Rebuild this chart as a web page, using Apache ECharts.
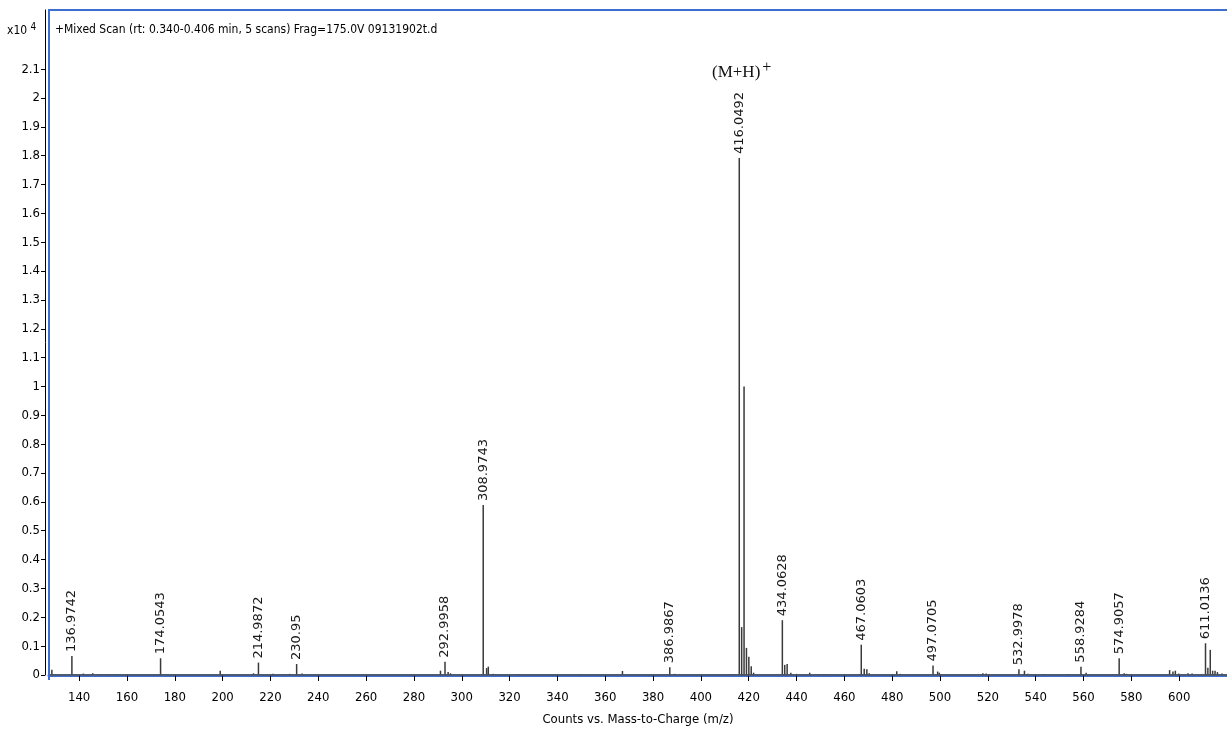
<!DOCTYPE html>
<html><head><meta charset="utf-8">
<script src="https://cdn.jsdelivr.net/npm/echarts@6/dist/echarts.min.js"></script>
<style>html,body{margin:0;padding:0;background:#fff}#c{width:1227px;height:729px}</style>
</head><body><div id="c"></div>
<script>
// Labelled peaks (m/z, intensity x10^4, label text)
const labeledMz = [136.9742,174.0543,214.9872,230.95,292.9958,308.9743,386.9867,416.0492,434.0628,467.0603,497.0705,532.9978,558.9284,574.9057,611.0136];
const labeledIntensity = [0.066,0.058,0.043,0.038,0.046,0.589,0.027,1.792,0.19,0.105,0.033,0.02,0.029,0.058,0.11];
const labeledText = ['136.9742','174.0543','214.9872','230.95','292.9958','308.9743','386.9867','416.0492','434.0628','467.0603','497.0705','532.9978','558.9284','574.9057','611.0136'];
// Unlabelled peaks
const minorMz = [128.6,141.8,145.7,148.8,152.0,155.0,199.0,212.9,221.0,226.0,228.0,233.2,291.1,294.3,295.3,310.4,311.1,313.2,322.5,324.0,349.7,367.2,389.0,412.5,413.8,417.05,418.05,419.05,420.05,421.05,422.05,435.06,436.06,437.6,440.0,445.5,449.5,451.0,452.3,468.3,469.4,470.4,481.9,483.4,499.0,499.7,517.9,519.3,535.3,536.7,543.7,553.4,561.1,577.0,578.0,596.0,597.4,598.4,599.8,603.7,605.4,612.0,613.0,614.0,615.0,616.0,617.9];
const minorIntensity = [0.018,0.005,0.006,0.003,0.003,0.003,0.015,0.006,0.004,0.003,0.004,0.005,0.015,0.01,0.006,0.024,0.029,0.004,0.003,0.003,0.002,0.014,0.004,0.003,0.003,0.166,1.0,0.094,0.063,0.03,0.008,0.035,0.038,0.008,0.004,0.008,0.003,0.003,0.003,0.022,0.02,0.006,0.013,0.004,0.012,0.008,0.006,0.005,0.015,0.004,0.003,0.003,0.008,0.006,0.004,0.017,0.012,0.015,0.005,0.006,0.005,0.025,0.087,0.015,0.015,0.01,0.005];
// Axis ticks
const xTicks = [140,160,180,200,220,240,260,280,300,320,340,360,380,400,420,440,460,480,500,520,540,560,580,600];
const yTicks = [0,0.1,0.2,0.3,0.4,0.5,0.6,0.7,0.8,0.9,1,1.1,1.2,1.3,1.4,1.5,1.6,1.7,1.8,1.9,2,2.1];

const titleText = '+Mixed Scan (rt: 0.340-0.406 min, 5 scans) Frag=175.0V 09131902t.d';
const xName = 'Counts vs. Mass-to-Charge (m/z)';

const NARROW = '"DejaVu Sans Condensed","Liberation Sans",sans-serif';
const BLUE = '#3d6fd3';

const data = [];
minorMz.forEach((m,i)=>data.push([m, minorIntensity[i], '']));
labeledMz.forEach((m,i)=>data.push([m, labeledIntensity[i], labeledText[i]]));

function renderItem(params, api){
  const x = api.value(0), y = api.value(1);
  const top = api.coord([x, y]);
  const base = api.coord([x, 0]);
  const children = [{
    type:'line',
    shape:{x1:top[0], y1:base[1], x2:top[0], y2:top[1]},
    style:{stroke:'#3a3a3a', lineWidth:1.5}
  }];
  const lbl = data[params.dataIndex][2];
  if (lbl) {
    children.push({
      type:'text', x: top[0], y: top[1]-4, rotation: Math.PI/2,
      style:{text: lbl, font:'13px "DejaVu Sans"', fill:'#1a1a1a', align:'left', verticalAlign:'middle'}
    });
  }
  return {type:'group', children};
}

const chart = echarts.init(document.getElementById('c'), null, {renderer:'canvas'});
chart.setOption({
  animation:false,
  backgroundColor:'#fff',
  title:{text:titleText, left:50, top:19, textStyle:{fontFamily:NARROW, fontSize:12, fontWeight:'normal', color:'#000'}},
  grid:{left:49, right:0, top:10, bottom:54, containLabel:false, outerBoundsMode:'none'},
  xAxis:{
    type:'value', min:127.4, max:620, offset:4,
    name:xName, nameLocation:'middle', nameGap:34,
    nameTextStyle:{fontFamily:NARROW, fontSize:13, color:'#000'},
    axisLine:{show:true, lineStyle:{color:BLUE, width:3}},
    axisTick:{show:true, customValues:xTicks, length:6, lineStyle:{color:'#000'}},
    axisLabel:{customValues:xTicks, fontFamily:NARROW, fontSize:13, color:'#000', margin:12},
    splitLine:{show:false}
  },
  yAxis:{
    type:'value', min:0, max:2.305, offset:4,
    axisLine:{show:true, lineStyle:{color:'#000', width:1}},
    axisTick:{show:true, customValues:yTicks, length:4, lineStyle:{color:'#000'}},
    axisLabel:{customValues:yTicks, fontFamily:NARROW, fontSize:13, color:'#000', margin:5},
    splitLine:{show:false}
  },
  graphic:[
    {type:'polyline', shape:{points:[[49,680],[49,10],[1227,10]]}, style:{stroke:BLUE, lineWidth:2, fill:null}, silent:true, z:10},
    {type:'text', left:7, top:22, style:{text:'x10 {s|4}', rich:{s:{fontSize:10, verticalAlign:'top', padding:[0,0,8,0], fontFamily:NARROW, fill:'#000'}}, font:'12px '+NARROW, fill:'#000'}},
    {type:'text', left:712, top:60, style:{text:'(M+H){s|+}', rich:{s:{fontSize:16, padding:[0,0,10,2], fontFamily:'"Liberation Serif",serif', fill:'#111'}}, font:'17px "Liberation Serif",serif', fill:'#111'}}
  ],
  series:[{
    type:'custom', renderItem, data, clip:false,
    encode:{x:0, y:1},
    markLine:{silent:true, symbol:'none', label:{show:false}, lineStyle:{color:'#555', type:'solid', width:1.5}, data:[{yAxis:0}]}
  }]
});
</script></body></html>
